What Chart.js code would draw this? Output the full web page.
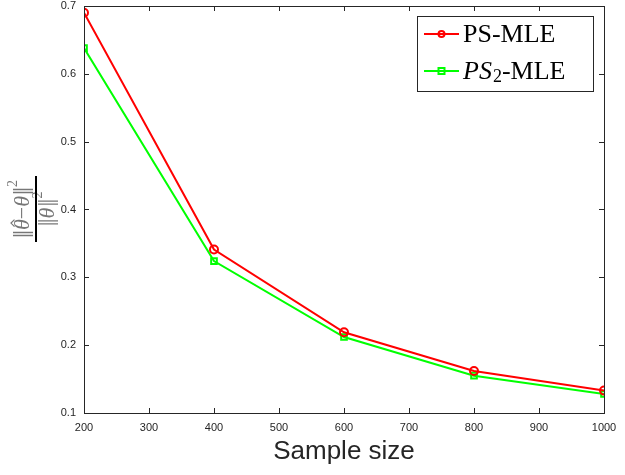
<!DOCTYPE html>
<html><head><meta charset="utf-8">
<script src="https://cdn.jsdelivr.net/npm/chart.js@4"></script>
<style>html,body{margin:0;padding:0;background:#fff}#wrap{width:625px;height:475px}</style>
</head><body><div id="wrap"><canvas id="c" width="625" height="475"></canvas></div>
<script>
const sampleSizes = [200, 400, 600, 800, 1000];
const psMle = [0.690, 0.341, 0.219, 0.162, 0.133];
const ps2Mle = [0.638, 0.324, 0.212, 0.155, 0.128];
const xTickValues = [200, 300, 400, 500, 600, 700, 800, 900, 1000];
const yTickValues = [0.1, 0.2, 0.3, 0.4, 0.5, 0.6, 0.7];
const seriesNames = ['PS-MLE', 'PS2-MLE'];
const xTitle = 'Sample size';

const AX = '#262626';
const RED = '#ff0000', GREEN = '#00ff00';

function pts(vals){ return sampleSizes.map((x,i)=>({x:x,y:vals[i]})); }

const decor = {
  id:'decor',
  afterDraw(chart){
    const ctx = chart.ctx, a = chart.chartArea;
    const xs = chart.scales.x, ys = chart.scales.y;
    ctx.save();
    // frame
    ctx.strokeStyle = AX; ctx.lineWidth = 1;
    ctx.strokeRect(Math.round(a.left)+0.5, Math.round(a.top)+0.5, Math.round(a.right-a.left), Math.round(a.bottom-a.top));
    // inner ticks
    const tl = 5;
    ctx.beginPath();
    xTickValues.forEach(v=>{
      const px = Math.round(xs.getPixelForValue(v))+0.5;
      ctx.moveTo(px, a.bottom); ctx.lineTo(px, a.bottom-tl);
      ctx.moveTo(px, a.top); ctx.lineTo(px, a.top+tl);
    });
    yTickValues.forEach(v=>{
      const py = Math.round(ys.getPixelForValue(v))+0.5;
      ctx.moveTo(a.left, py); ctx.lineTo(a.left+tl, py);
      ctx.moveTo(a.right, py); ctx.lineTo(a.right-tl, py);
    });
    ctx.stroke();

    // x title
    ctx.fillStyle = AX;
    ctx.font = '26px "Liberation Sans", Arial, sans-serif';
    ctx.textAlign = 'center'; ctx.textBaseline = 'middle';
    ctx.fillText(xTitle, (a.left+a.right)/2, 452);

    // y label: fraction
    ctx.save();
    ctx.translate(36, 209);
    ctx.rotate(-Math.PI/2);
    const gray = '#777777';
    const FS = 22;
    function drawRuns(runs, cx, baseY){
      let total = 0;
      runs.forEach(r=>{
        if (r.bars){ r.w = 8; }
        else { ctx.font = r.font; r.w = ctx.measureText(r.t).width; }
        total += r.w;
      });
      let x = cx - total/2;
      runs.forEach(r=>{
        ctx.fillStyle = gray; ctx.strokeStyle = gray;
        if (r.bars){
          ctx.lineWidth = 1.3;
          ctx.beginPath();
          ctx.moveTo(x+2.5, baseY+4); ctx.lineTo(x+2.5, baseY-16);
          ctx.moveTo(x+5.5, baseY+4); ctx.lineTo(x+5.5, baseY-16);
          ctx.stroke();
        } else {
          ctx.font = r.font;
          ctx.textAlign='left'; ctx.textBaseline='alphabetic';
          ctx.fillText(r.t, x, baseY + (r.dy||0));
        }
        if (r.hat){
          ctx.lineWidth = 1.2;
          const hx = x + r.w/2 + 1.5, hy = baseY - 17;
          ctx.beginPath();
          ctx.moveTo(hx-3.5, hy+2.5); ctx.lineTo(hx, hy-1); ctx.lineTo(hx+3.5, hy+2.5);
          ctx.stroke();
        }
        x += r.w;
      });
    }
    const f = FS+'px "Liberation Serif", serif';
    const fi = 'italic '+FS+'px "Liberation Serif", serif';
    const fs = '14px "Liberation Serif", serif';
    drawRuns([
      {bars:true},
      {t:'\u03B8', font:fi, hat:true},
      {t:'\u2212', font:f},
      {t:'\u03B8', font:fi},
      {t:' ', font:'4px serif'},
      {bars:true},
      {t:'2', font:fs, dy:-12}
    ], 0, -7);
    drawRuns([
      {bars:true},
      {t:'\u03B8', font:fi},
      {t:' ', font:'4px serif'},
      {bars:true},
      {t:'2', font:fs, dy:-12}
    ], 0, 18);
    ctx.strokeStyle = '#000'; ctx.lineWidth = 2;
    ctx.beginPath(); ctx.moveTo(-33, 0); ctx.lineTo(33, 0); ctx.stroke();
    ctx.restore();

    // legend
    const lx = 417, ly = 16, lw = 176, lh = 75;
    ctx.fillStyle = '#fff'; ctx.fillRect(lx, ly, lw, lh);
    ctx.strokeStyle = AX; ctx.lineWidth = 1;
    ctx.strokeRect(lx+0.5, ly+0.5, lw, lh);
    const entries = [
      {y:34, c:RED, shape:'circle'},
      {y:71, c:GREEN, shape:'rect'}
    ];
    entries.forEach((e,i)=>{
      ctx.strokeStyle = e.c; ctx.lineWidth = 2;
      ctx.beginPath(); ctx.moveTo(424, e.y); ctx.lineTo(459, e.y); ctx.stroke();
      ctx.beginPath();
      if (e.shape==='circle') ctx.arc(441.5, e.y, 3, 0, Math.PI*2);
      else ctx.rect(438.5, e.y-3, 6, 6);
      ctx.stroke();
      ctx.fillStyle = '#000';
      ctx.textAlign='left'; ctx.textBaseline='middle';
      if (i===0){
        ctx.font = '26px "Liberation Serif", serif';
        ctx.fillText('PS-MLE', 463, e.y+1);
      } else {
        let x = 463;
        ctx.font = 'italic 26px "Liberation Serif", serif';
        ctx.fillText('PS', x, e.y+1); x += ctx.measureText('PS').width + 1;
        ctx.font = '18px "Liberation Serif", serif';
        ctx.fillText('2', x, e.y+6); x += ctx.measureText('2').width;
        ctx.font = '26px "Liberation Serif", serif';
        ctx.fillText('-MLE', x, e.y+1);
      }
    });
    ctx.restore();
  }
};

new Chart(document.getElementById('c'), {
  type:'line',
  data:{
    datasets:[
      {label:seriesNames[0], data:pts(psMle), borderColor:RED, backgroundColor:'rgba(0,0,0,0)',
       borderWidth:2, pointStyle:'circle', pointRadius:4, pointBorderWidth:2, pointBorderColor:RED,
       pointBackgroundColor:'rgba(0,0,0,0)', tension:0},
      {label:seriesNames[1], data:pts(ps2Mle), borderColor:GREEN, backgroundColor:'rgba(0,0,0,0)',
       borderWidth:2, pointStyle:'rect', pointRadius:4, pointBorderWidth:2, pointBorderColor:GREEN,
       pointBackgroundColor:'rgba(0,0,0,0)', tension:0}
    ]
  },
  options:{
    responsive:false, animation:false, devicePixelRatio:1,
    layout:{padding:{top:5, right:21, left:0, bottom:0}},
    plugins:{legend:{display:false}, tooltip:{enabled:false}},
    scales:{
      x:{type:'linear', min:200, max:1000,
         afterBuildTicks(s){ s.ticks = xTickValues.map(v=>({value:v})); },
         afterFit(s){ s.height = 62; s.paddingLeft=0; s.paddingRight=0; },
         grid:{display:false, drawTicks:false}, border:{display:false},
         ticks:{color:AX, font:{family:'"Liberation Sans", Arial, sans-serif', size:11}, padding:8, maxRotation:0,
                callback:v=>String(v)}},
      y:{type:'linear', min:0.1, max:0.7,
         afterBuildTicks(s){ s.ticks = yTickValues.map(v=>({value:v})); },
         afterFit(s){ s.width = 84; s.paddingTop=0; s.paddingBottom=0; },
         grid:{display:false, drawTicks:false}, border:{display:false},
         ticks:{color:AX, font:{family:'"Liberation Sans", Arial, sans-serif', size:11}, padding:8,
                callback:v=>v.toFixed(1)}}
    }
  },
  plugins:[decor]
});
</script>
</body></html>
